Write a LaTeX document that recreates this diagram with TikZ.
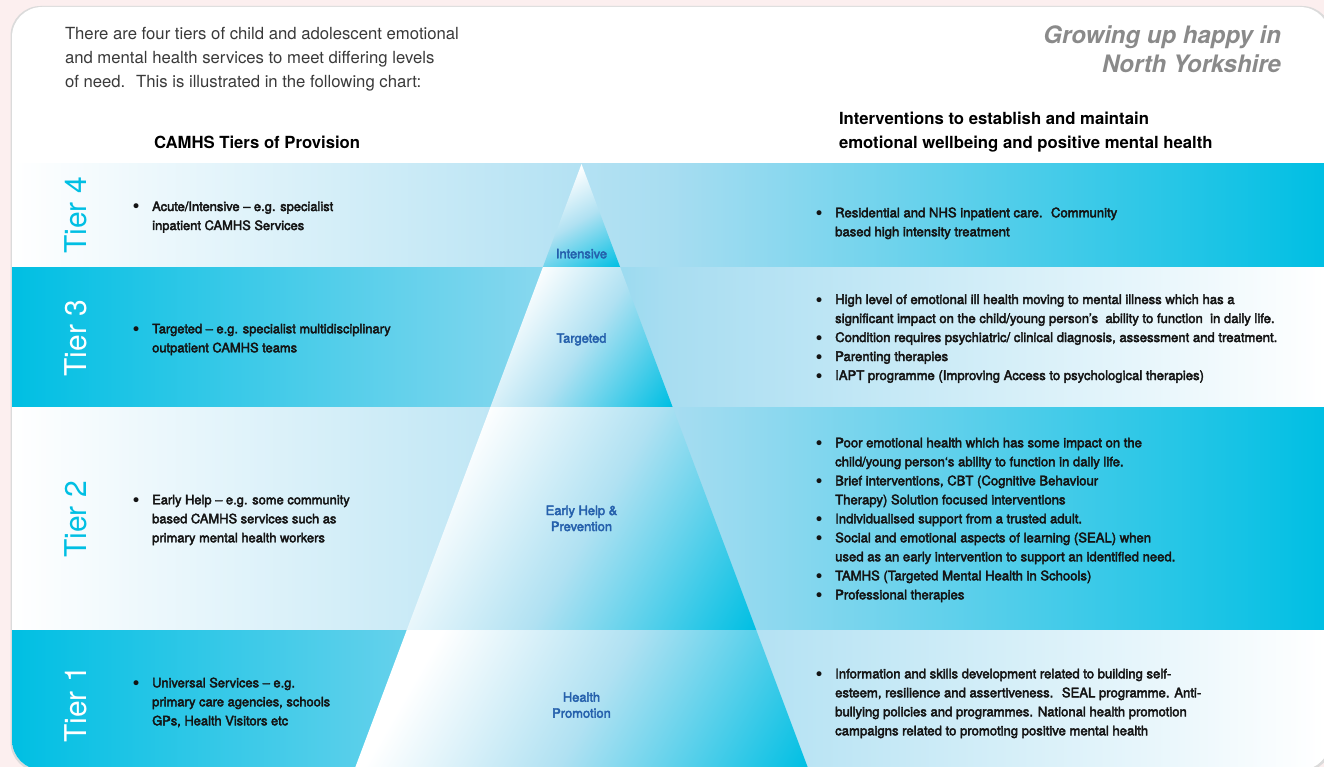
\documentclass[tikz,border=0pt]{standalone}
\usepackage{fontspec}
\setmainfont{TeX Gyre Heros}
\newfontfamily\medfont[FakeBold=3]{TeX Gyre Heros}
\newfontfamily\dotfont{DejaVu Sans}
\definecolor{cyanT}{HTML}{00BFE3}
\definecolor{midB}{HTML}{A8DDF1}
\definecolor{pyrMid}{HTML}{B0E1F2}
\definecolor{pinkbg}{HTML}{FCEFEF}
\definecolor{labblue}{HTML}{2560AC}
\definecolor{introgray}{HTML}{3A3A3A}
\definecolor{titlegray}{HTML}{8A8A8A}
\definecolor{bodyblack}{HTML}{141414}
\pgfdeclarehorizontalshading{bandLR}{100bp}{color(0bp)=(white); color(25bp)=(white); color(50bp)=(midB); color(75bp)=(cyanT); color(100bp)=(cyanT)}
\pgfdeclarehorizontalshading{bandRL}{100bp}{color(0bp)=(cyanT); color(25bp)=(cyanT); color(50bp)=(midB); color(75bp)=(white); color(100bp)=(white)}
\pgfdeclarehorizontalshading{pyrshade}{100bp}{color(0bp)=(white); color(27bp)=(white); color(52bp)=(pyrMid); color(84bp)=(cyanT); color(100bp)=(cyanT)}
\newcommand\bu{\makebox[21.2pt][l]{\smash{\raisebox{-2pt}{\dotfont\fontsize{17}{17}\selectfont •}}}}
\newcommand\ind{\hspace*{21.2pt}}
\tikzset{
  plain/.style={inner sep=0pt, outer sep=0pt},
  introtext/.style={plain, anchor=base west, text=introgray, font=\fontsize{16.7}{24}\selectfont},
  headtext/.style={plain, anchor=base west, text=black, font=\fontsize{16.7}{24}\selectfont\bfseries},
  titletext/.style={plain, anchor=base east, text=titlegray, font=\fontsize{24}{29}\selectfont\bfseries\itshape},
  tierlab/.style={plain, rotate=90, font=\fontsize{30}{36}\selectfont},
  bultext/.style={plain, anchor=base west, text=bodyblack, font=\fontsize{12.9}{19}\selectfont\medfont},
  bultextr/.style={bultext, font=\fontsize{13.1}{19}\selectfont\medfont},
  pyrlab/.style={plain, anchor=base, text=labblue, font=\fontsize{12.9}{16}\selectfont\medfont},
  band/.style={shade, shading=#1},
  seg/.style={shade, shading=pyrshade, shading angle=#1},
}
\begin{document}
\begin{tikzpicture}[x=1pt, y=-1pt]
\useasboundingbox (0,0) rectangle (1324,767);
\fill[pinkbg] (0,0) rectangle (1324,767);
% card shadow and card
\fill[black!14, rounded corners=30pt] (10.5,6) rectangle (1332,772);
\fill[white, rounded corners=30pt] (12,7) rectangle (1330,770);
\begin{scope}
  \clip[rounded corners=30pt] (12,7) rectangle (1330,770);
  % bands
  \path[band=bandLR] (12,164) rectangle (1324,267);
  \path[band=bandRL] (12,267) rectangle (1324,407);
  \path[band=bandLR] (12,407) rectangle (1324,630);
  \path[band=bandRL] (12,630) rectangle (1324,770);
  % pyramid
  \path[seg=-60] (581.5,164) -- (620.1,267) -- (542.9,267) -- cycle;
  \path[seg=-35] (542.9,267) -- (620.1,267) -- (672.6,407) -- (490.4,407) -- cycle;
  \path[seg=-30] (490.4,407) -- (672.6,407) -- (756.25,630) -- (406.75,630) -- cycle;
  \path[seg=-30] (406.75,630) -- (756.25,630) -- (808.75,770) -- (354.25,770) -- cycle;
\end{scope}

% header texts
\node[introtext] (intro) at (65,40) {\begin{tabular}[t]{@{}l@{}}There are four tiers of child and adolescent emotional\\and mental health services to meet differing levels\\of need.~ This is illustrated in the following chart:\end{tabular}};
\node[titletext] (title) at (1281,44) {\begin{tabular}[t]{@{}r@{}}Growing up happy in\\[0pt]North Yorkshire\end{tabular}};
\node[headtext] (lefthead) at (154,148.5) {CAMHS Tiers of Provision};
\node[headtext] (righthead) at (839,124.5) {\begin{tabular}[t]{@{}l@{}}Interventions to establish and maintain\\emotional wellbeing and positive mental health\end{tabular}};

% tier labels
\node[tierlab, text=cyanT] (tier4) at (76,215.5) {Tier 4};
\node[tierlab, text=white] (tier3) at (76,338) {Tier 3};
\node[tierlab, text=cyanT] (tier2) at (76,519.5) {Tier 2};
\node[tierlab, text=white] (tier1) at (76,704.5) {Tier 1};

% pyramid labels
\node[pyrlab] (pyr4) at (581.5,258.3) {Intensive};
\node[pyrlab] (pyr3) at (581.5,342.7) {Targeted};
\node[pyrlab] (pyr2) at (581.5,515) {\begin{tabular}[t]{@{}c@{}}Early Help \&\\Prevention\end{tabular}};
\node[pyrlab] (pyr1) at (581.5,701.7) {\begin{tabular}[t]{@{}c@{}}Health\\Promotion\end{tabular}};

% left bullets
\node[bultext] (left4) at (131,211) {\begin{tabular}[t]{@{}l@{}}\bu Acute/Intensive – e.g. specialist\\\ind inpatient CAMHS Services\end{tabular}};
\node[bultext] (left3) at (131,333.3) {\begin{tabular}[t]{@{}l@{}}\bu Targeted – e.g. specialist multidisciplinary\\\ind outpatient CAMHS teams\end{tabular}};
\node[bultext] (left2) at (131,504.3) {\begin{tabular}[t]{@{}l@{}}\bu Early Help – e.g. some community\\\ind based CAMHS services such as\\\ind primary mental health workers\end{tabular}};
\node[bultext] (left1) at (131,687.3) {\begin{tabular}[t]{@{}l@{}}\bu Universal Services – e.g.\\\ind primary care agencies, schools\\\ind GPs, Health Visitors etc\end{tabular}};

% right bullets
\node[bultextr] (right4) at (814,217.3) {\begin{tabular}[t]{@{}l@{}}\bu Residential and NHS inpatient care.~ Community\\\ind based high intensity treatment\end{tabular}};
\node[bultextr] (right3) at (814,304) {\begin{tabular}[t]{@{}l@{}}\bu High level of emotional ill health moving to mental illness which has a\\\ind significant impact on the child/young person’s~ ability to function~ in daily life.\\\bu Condition requires psychiatric/ clinical diagnosis, assessment and treatment.\\\bu Parenting therapies\\\bu IAPT programme (Improving Access to psychological therapies)\end{tabular}};
\node[bultextr] (right2) at (814,447.3) {\begin{tabular}[t]{@{}l@{}}\bu Poor emotional health which has some impact on the\\\ind child/young person‘s ability to function in daily life.\\\bu Brief interventions, CBT (Cognitive Behaviour\\\ind Therapy) Solution focused interventions\\\bu Individualised support from a trusted adult.\\\bu Social and emotional aspects of learning (SEAL) when\\\ind used as an early intervention to support an identified need.\\\bu TAMHS (Targeted Mental Health in Schools)\\\bu Professional therapies\end{tabular}};
\node[bultextr] (right1) at (814,678.3) {\begin{tabular}[t]{@{}l@{}}\bu Information and skills development related to building self-\\\ind esteem, resilience and assertiveness.~ SEAL programme. Anti-\\\ind bullying policies and programmes. National health promotion\\\ind campaigns related to promoting positive mental health\end{tabular}};
\end{tikzpicture}
\end{document}
